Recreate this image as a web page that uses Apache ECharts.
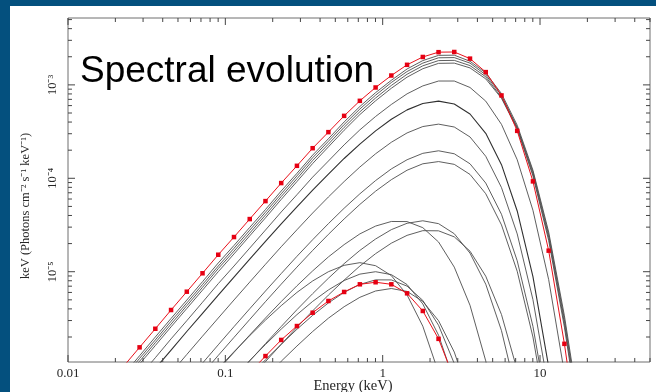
<!DOCTYPE html>
<html>
<head>
<meta charset="utf-8">
<script src="https://cdn.jsdelivr.net/npm/echarts@6/dist/echarts.min.js"></script>
<style>
  html, body { margin: 0; padding: 0; background: #04507e; }
  #frame { position: absolute; left: 0; top: 0; width: 656px; height: 392px; background: #04507e; }
  #chart { position: absolute; left: 10px; top: 6px; width: 646px; height: 386px; background: #ffffff; }
</style>
</head>
<body>
<div id="frame"><div id="chart"></div></div>
<script>
// Photon energies (keV) at which every model spectrum is tabulated
const energy = [0.02265, 0.02851, 0.03589, 0.04519, 0.05689, 0.07161, 0.09016, 0.1135, 0.1429, 0.1799,
  0.2265, 0.2851, 0.3589, 0.4519, 0.5689, 0.7161, 0.9016, 1.135, 1.429, 1.799,
  2.265, 2.851, 3.589, 4.519, 5.689, 7.161, 9.016, 11.35, 14.29, 17.99];

// Brightest spectrum (red, with markers)
const peakSpectrum = [9.8e-7, 1.55e-6, 2.45e-6, 3.89e-6, 6.11e-6, 9.62e-6, 1.52e-5, 2.35e-5, 3.66e-5, 5.70e-5,
  8.89e-5, 1.36e-4, 2.10e-4, 3.12e-4, 4.66e-4, 6.75e-4, 9.38e-4, 1.26e-3, 1.64e-3, 1.99e-3,
  2.24e-3, 2.25e-3, 1.91e-3, 1.37e-3, 7.71e-4, 3.22e-4, 9.27e-5, 1.68e-5, 1.69e-6, 1.12e-7];

// Faint late spectrum (red, with markers)
const lateSpectrum = [null, null, null, null, null, null, null, null, 8.32e-7, 1.25e-6,
  1.86e-6, 2.62e-6, 3.64e-6, 4.86e-6, 6.07e-6, 7.33e-6, 7.71e-6, 7.33e-6, 5.87e-6, 3.80e-6,
  1.91e-6, 7.08e-7, null, null, null, null, null, null, null, null];

// Grey spectra near the peak
const g1 = [7.96e-7, 1.26e-6, 2.00e-6, 3.16e-6, 4.97e-6, 7.82e-6, 1.24e-5, 1.91e-5, 2.98e-5, 4.63e-5,
  7.31e-5, 1.13e-4, 1.77e-4, 2.65e-4, 4.01e-4, 5.87e-4, 8.26e-4, 1.12e-3, 1.48e-3, 1.82e-3,
  2.07e-3, 2.08e-3, 1.79e-3, 1.34e-3, 8.07e-4, 3.70e-4, 1.22e-4, 2.66e-5, 3.37e-6, 2.82e-7];
const g2 = [7.43e-7, 1.18e-6, 1.86e-6, 2.95e-6, 4.63e-6, 7.29e-6, 1.15e-5, 1.78e-5, 2.78e-5, 4.33e-5,
  6.82e-5, 1.06e-4, 1.66e-4, 2.49e-4, 3.76e-4, 5.52e-4, 7.76e-4, 1.06e-3, 1.39e-3, 1.71e-3,
  1.95e-3, 1.96e-3, 1.71e-3, 1.28e-3, 7.71e-4, 3.53e-4, 1.17e-4, 2.48e-5, 3.07e-6, 2.51e-7];
const g3 = [6.93e-7, 1.10e-6, 1.74e-6, 2.75e-6, 4.33e-6, 6.81e-6, 1.08e-5, 1.66e-5, 2.59e-5, 4.04e-5,
  6.37e-5, 9.89e-5, 1.55e-4, 2.32e-4, 3.51e-4, 5.15e-4, 7.24e-4, 9.86e-4, 1.30e-3, 1.60e-3,
  1.82e-3, 1.83e-3, 1.61e-3, 1.22e-3, 7.36e-4, 3.45e-4, 1.11e-4, 2.32e-5, 2.80e-6, 2.24e-7];
const g4 = [6.47e-7, 1.03e-6, 1.62e-6, 2.57e-6, 4.04e-6, 6.35e-6, 1.00e-5, 1.55e-5, 2.42e-5, 3.77e-5,
  5.94e-5, 9.23e-5, 1.44e-4, 2.17e-4, 3.27e-4, 4.81e-4, 6.76e-4, 9.20e-4, 1.21e-3, 1.49e-3,
  1.70e-3, 1.71e-3, 1.52e-3, 1.16e-3, 7.19e-4, 3.37e-4, 1.06e-4, 2.16e-5, 2.55e-6, 2.0e-7];

// Decaying hot spectra
const h1 = [null, 7.60e-7, 1.20e-6, 1.91e-6, 2.99e-6, 4.71e-6, 7.45e-6, 1.15e-5, 1.79e-5, 2.79e-5,
  4.36e-5, 6.67e-5, 1.03e-4, 1.53e-4, 2.28e-4, 3.30e-4, 4.59e-4, 6.17e-4, 8.02e-4, 9.75e-4,
  1.10e-3, 1.10e-3, 9.38e-4, 6.70e-4, 3.78e-4, 1.58e-4, 4.54e-5, 8.22e-6, 8.26e-7, null];
const h2 = [null, null, 9.2e-7, 1.45e-6, 2.29e-6, 3.59e-6, 5.62e-6, 8.77e-6, 1.36e-5, 2.11e-5,
  3.25e-5, 4.95e-5, 7.48e-5, 1.11e-4, 1.63e-4, 2.32e-4, 3.22e-4, 4.28e-4, 5.40e-4, 6.31e-4,
  6.70e-4, 6.24e-4, 4.88e-4, 3.03e-4, 1.40e-4, 4.47e-5, 8.85e-6, 9.6e-7, null, null];
const h3 = [null, null, null, 8.24e-7, 1.30e-6, 2.04e-6, 3.19e-6, 4.98e-6, 7.74e-6, 1.20e-5,
  1.85e-5, 2.81e-5, 4.25e-5, 6.31e-5, 9.23e-5, 1.32e-4, 1.83e-4, 2.43e-4, 3.06e-4, 3.58e-4,
  3.80e-4, 3.54e-4, 2.77e-4, 1.72e-4, 7.96e-5, 2.54e-5, 5.02e-6, 5.46e-7, null, null];
const h4 = [null, null, null, null, 6.71e-7, 1.05e-6, 1.65e-6, 2.58e-6, 4.01e-6, 6.21e-6,
  9.55e-6, 1.46e-5, 2.20e-5, 3.27e-5, 4.78e-5, 6.82e-5, 9.46e-5, 1.26e-4, 1.58e-4, 1.85e-4,
  1.97e-4, 1.83e-4, 1.43e-4, 8.89e-5, 4.12e-5, 1.31e-5, 2.60e-6, 2.82e-7, null, null];
const h5 = [null, null, null, null, null, 8.11e-7, 1.27e-6, 1.98e-6, 3.08e-6, 4.78e-6,
  7.35e-6, 1.12e-5, 1.69e-5, 2.51e-5, 3.67e-5, 5.25e-5, 7.28e-5, 9.66e-5, 1.22e-4, 1.43e-4,
  1.51e-4, 1.41e-4, 1.10e-4, 6.84e-5, 3.17e-5, 1.01e-5, 2.00e-6, 2.17e-7, null, null];

// Intermediate spectra
const m1 = [null, null, null, null, null, null, 8.89e-7, 1.37e-6, 2.10e-6, 3.19e-6,
  4.79e-6, 7.06e-6, 1.02e-5, 1.44e-5, 1.95e-5, 2.54e-5, 3.08e-5, 3.45e-5, 3.44e-5, 2.96e-5,
  2.08e-5, 1.12e-5, 4.37e-6, 1.11e-6, 1.66e-7, null, null, null, null, null];
const m2 = [null, null, null, null, null, null, null, 7.14e-7, 1.11e-6, 1.70e-6,
  2.59e-6, 3.92e-6, 5.82e-6, 8.51e-6, 1.22e-5, 1.69e-5, 2.24e-5, 2.82e-5, 3.30e-5, 3.51e-5,
  3.27e-5, 2.55e-5, 1.58e-5, 7.35e-6, 2.34e-6, 4.63e-7, null, null, null, null];
const m3 = [null, null, null, null, null, null, null, null, 7.08e-7, 1.09e-6,
  1.67e-6, 2.54e-6, 3.81e-6, 5.62e-6, 8.13e-6, 1.15e-5, 1.56e-5, 2.02e-5, 2.45e-5, 2.75e-5,
  2.74e-5, 2.36e-5, 1.66e-5, 8.95e-6, 3.48e-6, 8.85e-7, null, null, null, null];

// Faint cool spectra
const l1 = [null, null, null, null, null, null, 9.23e-7, 1.39e-6, 2.07e-6, 3.03e-6,
  4.33e-6, 6.00e-6, 7.96e-6, 1.00e-5, 1.17e-5, 1.25e-5, 1.16e-5, 9.08e-6, 5.64e-6, 2.61e-6,
  8.32e-7, null, null, null, null, null, null, null, null, null];
const l2 = [null, null, null, null, null, null, null, 7.40e-7, 1.12e-6, 1.66e-6,
  2.43e-6, 3.47e-6, 4.81e-6, 6.38e-6, 8.05e-6, 9.42e-6, 1.00e-5, 9.31e-6, 7.28e-6, 4.52e-6,
  2.09e-6, 6.67e-7, null, null, null, null, null, null, null, null];
const l3 = [null, null, null, null, null, null, null, null, 7.57e-7, 1.14e-6,
  1.67e-6, 2.42e-6, 3.41e-6, 4.63e-6, 6.01e-6, 7.31e-6, 8.18e-6, 8.17e-6, 7.01e-6, 4.93e-6,
  2.67e-6, 1.04e-6, 2.64e-7, null, null, null, null, null, null, null];
const l4 = [null, null, null, null, null, null, null, null, null, 7.38e-7,
  1.10e-6, 1.60e-6, 2.29e-6, 3.18e-6, 4.22e-6, 5.32e-6, 6.22e-6, 6.61e-6, 6.15e-6, 4.81e-6,
  2.99e-6, 1.38e-6, 4.41e-7, null, null, null, null, null, null, null];

// Axis ranges and labelled ticks
const xRange = [0.01, 50];
const yRange = [1.08e-6, 5.2e-3];
const xMajor = [0.01, 0.1, 1, 10];
const xMajorLabels = ['0.01', '0.1', '1', '10'];
const yMajor = [1e-5, 1e-4, 1e-3];
const yMajorLabels = ['10\u207B\u2075', '10\u207B\u2074', '10\u207B\u00B3'];

const SERIF = '"Liberation Serif", "Times New Roman", serif';
const SANS = '"Liberation Sans", Arial, sans-serif';

function pairs(vals) {
  return energy.map((e, i) => [e, vals[i] == null ? '-' : vals[i]]);
}
function labelFor(v, ticks, labels) {
  const i = ticks.findIndex(t => Math.abs(Math.log10(v) - Math.log10(t)) < 1e-6);
  return i < 0 ? '' : labels[i];
}

// Inward frame ticks at 1..9 x 10^n, drawn as short segments in data space.
// Tick lengths are given as multiplicative steps along the log axes.
const tickStep = { xLong: 1.108, xShort: 1.06, yLong: 1.188, yShort: 1.104 };
function decadeTicks(range, nFrom, nTo) {
  const out = [];
  for (let n = nFrom; n <= nTo; n++) {
    for (let m = 1; m <= 9; m++) {
      const v = m * Math.pow(10, n);
      if (v >= range[0] * 0.9999 && v <= range[1] * 1.0001) out.push([v, m === 1]);
    }
  }
  return out;
}
const tickSegments = [];
decadeTicks(xRange, -2, 1).forEach(([v, major]) => {
  const f = major ? tickStep.yLong : tickStep.yShort;
  tickSegments.push([v, yRange[0]], [v, yRange[0] * f], [v, '-']);
  tickSegments.push([v, yRange[1]], [v, yRange[1] / f], [v, '-']);
});
decadeTicks(yRange, -6, -3).forEach(([v, major]) => {
  if (v <= yRange[0] || v >= yRange[1]) return;
  const f = major ? tickStep.xLong : tickStep.xShort;
  tickSegments.push([xRange[0], v], [xRange[0] * f, v], [xRange[0], '-']);
  tickSegments.push([xRange[1], v], [xRange[1] / f, v], [xRange[1], '-']);
});

const greySets = [g1, g2, g3, g4, h1, h3, h4, h5, m1, m2, m3, l1, l2, l3, l4];

const series = greySets.map(vals => ({
  type: 'line', data: pairs(vals), showSymbol: false, symbol: 'none', silent: true,
  lineStyle: { color: '#4d4d4d', width: 0.9 }, z: 2, animation: false
}));
series.push({
  type: 'line', data: pairs(h2), showSymbol: false, symbol: 'none', silent: true,
  lineStyle: { color: '#303030', width: 1.1 }, z: 2, animation: false
});
[peakSpectrum, lateSpectrum].forEach(vals => series.push({
  type: 'line', data: pairs(vals), symbol: 'rect', symbolSize: 4.5, showSymbol: true, silent: true,
  lineStyle: { color: '#e8101a', width: 1 }, itemStyle: { color: '#e60012' }, z: 4, animation: false
}));
series.push({
  type: 'line', data: tickSegments, showSymbol: false, symbol: 'none', silent: true,
  connectNulls: false, clip: false, z: 5, animation: false,
  lineStyle: { color: '#444444', width: 1 }
});

const chart = echarts.init(document.getElementById('chart'));
chart.setOption({
  animation: false,
  backgroundColor: '#ffffff',
  grid: { left: 58, top: 12, right: 6, bottom: 30, show: true, borderColor: '#6e6e6e', borderWidth: 1, outerBoundsMode: 'none' },
  xAxis: {
    type: 'log', logBase: 10, min: xRange[0], max: xRange[1],
    axisLine: { show: false }, axisTick: { show: false }, splitLine: { show: false },
    axisLabel: {
      margin: 5, fontFamily: SERIF, fontSize: 13, color: '#262626',
      formatter: v => labelFor(v, xMajor, xMajorLabels)
    }
  },
  yAxis: {
    type: 'log', logBase: 10, min: yRange[0], max: yRange[1],
    axisLine: { show: false }, axisTick: { show: false }, splitLine: { show: false },
    axisLabel: {
      rotate: 90, margin: 9, fontFamily: SERIF, fontSize: 12.5, color: '#262626',
      formatter: v => labelFor(v, yMajor, yMajorLabels)
    }
  },
  graphic: [
    { type: 'text', x: 70, y: 47,
      style: { text: 'Spectral evolution', font: '37px ' + SANS, fill: '#000000', align: 'left', verticalAlign: 'top' } },
    { type: 'text', x: 343, y: 373,
      style: { text: 'Energy (keV)', font: '14.5px ' + SERIF, fill: '#262626', align: 'center', verticalAlign: 'top' } },
    { type: 'text', x: 16, y: 200, rotation: Math.PI / 2,
      style: { text: 'keV (Photons cm\u207B\u00B2 s\u207B\u00B9 keV\u207B\u00B9)', font: '12.5px ' + SERIF, fill: '#262626', align: 'center', verticalAlign: 'middle' } }
  ],
  series: series
});
</script>
</body>
</html>
